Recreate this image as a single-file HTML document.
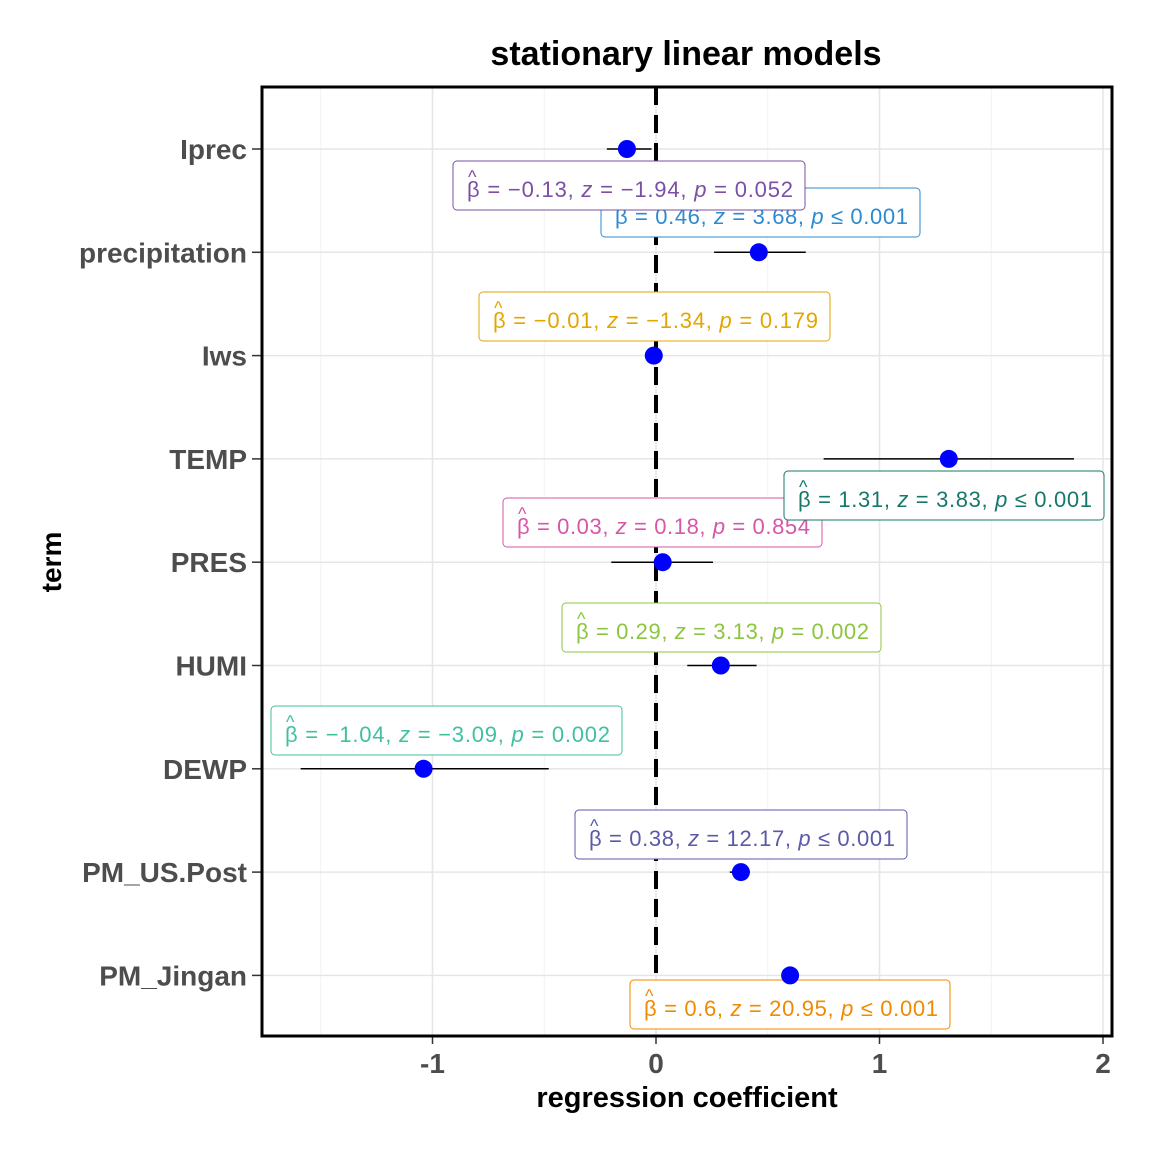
<!DOCTYPE html>
<html><head><meta charset="utf-8"><style>
html,body{margin:0;padding:0;background:#fff;}
svg{display:block;font-family:"Liberation Sans",sans-serif;}
</style></head><body>
<svg id="chart" width="1152" height="1152">
<text x="686" y="65" font-size="34" font-weight="bold" text-anchor="middle">stationary linear models</text>
<g id="plot"></g>
<text x="687" y="1107" font-size="29" font-weight="bold" text-anchor="middle">regression coefficient</text>
<text transform="translate(61,562) rotate(-90)" font-size="28" font-weight="bold" text-anchor="middle">term</text>
</svg>
<script>
const terms = ["Iprec","precipitation","Iws","TEMP","PRES","HUMI","DEWP","PM_US.Post","PM_Jingan"];
const estimates = [-0.13, 0.46, -0.01, 1.31, 0.03, 0.29, -1.04, 0.38, 0.6];
const ciLow = [-0.22, 0.26, -0.02, 0.75, -0.20, 0.14, -1.59, 0.33, 0.58];
const ciHigh = [-0.02, 0.67, 0.00, 1.87, 0.255, 0.45, -0.48, 0.42, 0.62];
const betaLabels = ["−0.13","0.46","−0.01","1.31","0.03","0.29","−1.04","0.38","0.6"];
const zLabels = ["−1.94","3.68","−1.34","3.83","0.18","3.13","−3.09","12.17","20.95"];
const pLabels = ["= 0.052","≤ 0.001","= 0.179","≤ 0.001","= 0.854","= 0.002","= 0.002","≤ 0.001","≤ 0.001"];
const xTicks = [-1,0,1,2];
const xMinor = [-1.5,-0.5,0.5,1.5];
// label layout (repel positions, not data)
const boxColors = ["#7b4fa5","#2a8bd0","#e3a600","#16786a","#d656a8","#8cc63f","#40c0a0","#5a5aa8","#f08a00"];
const boxLeft = [453,601,479,784,503,562,271,575,630];
const boxTop = [161,188,292,471,498,603,706,810,980];
const boxW = [352,319,351,320,319,319,351,332,320];
const drawOrder = [1,0,2,4,3,5,6,7,8];

const NS="http://www.w3.org/2000/svg";
const L=262,R=1112,T=87,B=1036;
const x = v => 656 + v*223.5;
const y = i => 149 + i*103.3;
const g=document.getElementById('plot');
function el(tag,attrs,parent){const e=document.createElementNS(NS,tag);for(const k in attrs)e.setAttribute(k,attrs[k]);(parent||g).appendChild(e);return e;}

const grid=el('g',{});


xMinor.forEach(v=>el('line',{x1:x(v),x2:x(v),y1:T,y2:B,stroke:'#f2f2f2','stroke-width':1},grid));
xTicks.forEach(v=>el('line',{x1:x(v),x2:x(v),y1:T,y2:B,stroke:'#e6e6e6','stroke-width':1.5},grid));
terms.forEach((t,i)=>el('line',{x1:L,x2:R,y1:y(i),y2:y(i),stroke:'#e6e6e6','stroke-width':1.5},grid));

const zero=el('line',{x1:x(0),x2:x(0),y1:T,y2:B,stroke:'#000','stroke-width':4,'stroke-dasharray':'18,10'});



drawOrder.forEach(i=>{
  const c=boxColors[i];
  const lg=el('g',{});
  
  
  el('rect',{x:boxLeft[i],y:boxTop[i],width:boxW[i],height:49,rx:4,fill:'#fff',stroke:c,'stroke-width':1},lg);
  const tx=boxLeft[i]+14, ty=boxTop[i]+36;
  el('text',{x:tx+1,y:ty-14,'font-size':18,fill:c},lg).textContent='^';
  const t=el('text',{x:tx,y:ty,'font-size':22,fill:c,textLength:boxW[i]-26,lengthAdjust:'spacing'},lg);
  const parts=[['β',0],[' = '+betaLabels[i]+',  ',0],['z',1],[' = '+zLabels[i]+',  ',0],['p',1],[' '+pLabels[i],0]];
  parts.forEach(p=>{const s=el('tspan',{},t);if(p[1])s.setAttribute('font-style','italic');s.textContent=p[0];});
});

terms.forEach((t,i)=>{
  const eb=el('line',{x1:x(ciLow[i]),x2:x(ciHigh[i]),y1:y(i),y2:y(i),stroke:'#000','stroke-width':1.5});
  
  
  const pt=el('circle',{cx:x(estimates[i]),cy:y(i),r:9,fill:'#0000ff'});
  
  
  el('line',{x1:252,x2:L,y1:y(i),y2:y(i),stroke:'#333','stroke-width':1.5});
  const lb=el('text',{x:247,y:y(i)+10,'font-size':28,'font-weight':'bold',fill:'#4d4d4d','text-anchor':'end'});
  
  
  lb.textContent=t;
});
xTicks.forEach(v=>{
  el('line',{x1:x(v),x2:x(v),y1:B,y2:B+8,stroke:'#333','stroke-width':1.5});
  const lb=el('text',{x:x(v),y:1073,'font-size':28,'font-weight':'bold',fill:'#4d4d4d','text-anchor':'middle'});
  
  
  lb.textContent=v<0?'-'+Math.abs(v):String(v);
});
const frame=el('rect',{x:L,y:T,width:R-L,height:B-T,fill:'none',stroke:'#000','stroke-width':3});


</script>
</body></html>
